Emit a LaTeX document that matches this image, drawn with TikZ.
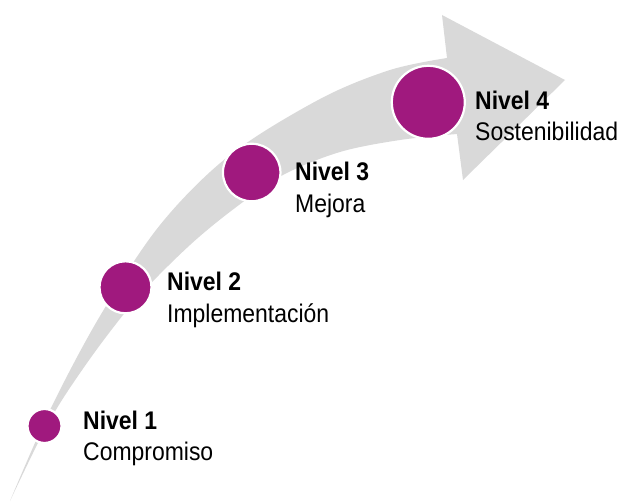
\documentclass[tikz,border=0pt]{standalone}
\usepackage{fontspec}
\setmainfont{Liberation Sans}[FakeStretch=0.9]
\definecolor{arrowgray}{RGB}{217,217,217}
\definecolor{lvlpurple}{RGB}{160,25,126}
\begin{document}
\begin{tikzpicture}[x=1pt,y=-1pt,
  lvl/.style={circle,fill=lvlpurple,draw=white,line width=2.2pt,inner sep=0pt},
  ttl/.style={anchor=base west,inner sep=0pt,font=\fontsize{25.5}{30}\selectfont\bfseries},
  sub/.style={anchor=base west,inner sep=0pt,font=\fontsize{25.5}{30}\selectfont}]
\useasboundingbox (0,0) rectangle (622,503);
% curved arrow
\fill[arrowgray]
  plot[smooth,tension=0.55] coordinates {(10,501) (50,410) (100,316) (160,225) (230,155) (320,99) (390,70) (447,58)}
  -- (442,15) -- (565,80) -- (463,180) -- (457,134)
  -- plot[smooth,tension=0.55] coordinates {(457,134) (400,140) (340,152) (283,175) (235,208) (190,245) (140,295) (100,345) (62,400) (38,443) (10,501)}
  -- cycle;
% level circles
\node[lvl,minimum size=34pt] (c1) at (44.5,426) {};
\node[lvl,minimum size=52pt] (c2) at (125.5,287.3) {};
\node[lvl,minimum size=57.5pt] (c3) at (251.7,172.5) {};
\node[lvl,minimum size=73pt] (c4) at (428.3,102.3) {};
% labels
\node[ttl] (t1) at (83,429) {Nivel 1};
\node[sub] (s1) at (83,460) {Compromiso};
\node[ttl] (t2) at (167,290) {Nivel 2};
\node[sub] (s2) at (167,322) {Implementación};
\node[ttl] (t3) at (295,180) {Nivel 3};
\node[sub] (s3) at (295,212) {Mejora};
\node[ttl] (t4) at (475,110) {Nivel 4};
\node[sub] (s4) at (475,140) {Sostenibilidad};
\end{tikzpicture}
\end{document}
